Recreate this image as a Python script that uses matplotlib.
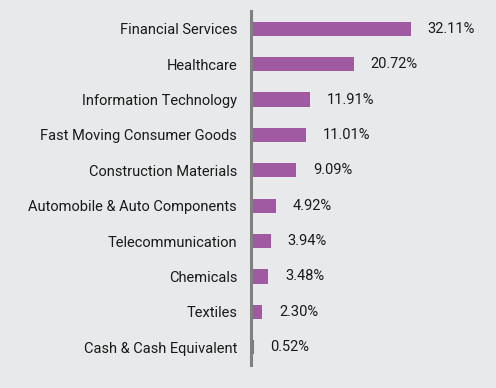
import matplotlib.pyplot as plt

plt.rcParams['font.family'] = ['Roboto', 'DejaVu Sans']

sectors = ['Financial Services', 'Healthcare', 'Information Technology',
           'Fast Moving Consumer Goods', 'Construction Materials',
           'Automobile & Auto Components', 'Telecommunication', 'Chemicals',
           'Textiles', 'Cash & Cash Equivalent']
weights = [32.11, 20.72, 11.91, 11.01, 9.09, 4.92, 3.94, 3.48, 2.30, 0.52]

bg = '#e8e9ea'
fig = plt.figure(figsize=(4.96, 3.88), dpi=100, facecolor=bg)
ax = fig.add_axes([251 / 496, 23 / 388, 245 / 496, 354 / 388], facecolor=bg)

pos = range(len(sectors))
ax.barh(pos, weights, height=0.4, color='#a05aa2')
for i, w in zip(pos, weights):
    ax.annotate(f'{w:.2f}%', (w, i), xytext=(12, 0), textcoords='offset points',
                va='center', ha='left', fontsize=10.5, color='#1a1a1a')

ax.set_yticks(list(pos))
ax.set_yticklabels(sectors, fontsize=10.5, color='#1a1a1a')
ax.set_ylim(9.5, -0.5)
ax.set_xlim(0, 49.2)
ax.set_xticks([])
ax.tick_params(axis='y', length=0, pad=10)
for s in ['top', 'right', 'bottom']:
    ax.spines[s].set_visible(False)
ax.spines['left'].set_color('#808080')
ax.spines['left'].set_linewidth(2.2)

fig.savefig('out.png', dpi=100, facecolor=bg)
